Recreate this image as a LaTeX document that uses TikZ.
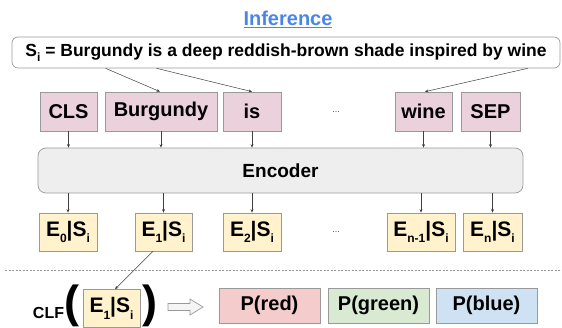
\documentclass[tikz,border=0pt]{standalone}
\usepackage{fontspec}
\setmainfont{Liberation Sans}
\usetikzlibrary{arrows.meta,calc}
\definecolor{tokfill}{HTML}{EAD1DC}
\definecolor{efill}{HTML}{FFF2CC}
\definecolor{encfill}{HTML}{EEEEEE}
\definecolor{redfill}{HTML}{F4CCCC}
\definecolor{greenfill}{HTML}{D9EAD3}
\definecolor{bluefill}{HTML}{CFE2F3}
\definecolor{bordergray}{HTML}{999999}
\definecolor{titleblue}{HTML}{4A86E8}
\newcommand{\lowsub}[1]{\raisebox{-0.3em}{\fontsize{12}{12}\selectfont #1}}
\begin{document}
\begin{tikzpicture}[x=1pt,y=-1pt,
  box/.style={draw=bordergray, line width=0.7pt, inner sep=0pt, font=\fontsize{20}{20}\selectfont\bfseries},
  tok/.style={box, fill=tokfill, minimum height=39pt},
  emb/.style={box, fill=efill, minimum height=38pt, font=\fontsize{21}{21}\selectfont\bfseries},
  prob/.style={box, minimum width=101pt, minimum height=35pt, font=\fontsize{20}{20}\selectfont\bfseries},
  conn/.style={draw=black!75, line width=0.5pt, -{Stealth[length=3.5pt,width=3pt]}},
  dotsn/.style={font=\fontsize{9}{9}\selectfont, text=black!70},
  paren/.style={font=\fontsize{45}{45}\selectfont\bfseries, inner sep=0pt, anchor=north}
]
\useasboundingbox (0,0) rectangle (562,328);

% title
\node[font=\fontsize{20}{20}\selectfont\bfseries, text=titleblue] (title) at (288,19) {\underline{Inference}};

% sentence
\node[draw=bordergray, line width=0.7pt, rounded corners=6pt, minimum width=548pt, minimum height=31pt,
      font=\fontsize{17.5}{17.5}\selectfont\bfseries] (sent) at (286,52.5)
      {S\lowsub{i} = Burgundy is a deep reddish-brown shade inspired by wine};

% tokens
\node[tok, minimum width=57pt] (cls) at (68.5,111.5) {CLS};
\node[tok, minimum width=112pt] (burg) at (161,111.5) {Burgundy};
\node[tok, minimum width=58pt] (is) at (252,111.5) {is};
\node[dotsn] (tdots) at (336,112) {...};
\node[tok, minimum width=57pt] (wine) at (423.5,111.5) {wine};
\node[tok, minimum width=59pt] (sep) at (490.5,111.5) {SEP};

% encoder
\node[box, fill=encfill, rounded corners=8pt, minimum width=485pt, minimum height=45pt,
      font=\fontsize{19}{19}\selectfont\bfseries] (enc) at (280.5,170.5) {Encoder};

% embeddings
\node[emb, minimum width=58pt] (e0) at (68,232) {E\lowsub{0}|S\lowsub{i}};
\node[emb, minimum width=57pt] (e1) at (163.5,232) {E\lowsub{1}|S\lowsub{i}};
\node[emb, minimum width=58pt] (e2) at (252,232) {E\lowsub{2}|S\lowsub{i}};
\node[dotsn] (edots) at (336,232) {...};
\node[emb, minimum width=68pt] (en1) at (421,232) {E\lowsub{n-1}|S\lowsub{i}};
\node[emb, minimum width=59pt] (en) at (492.5,232) {E\lowsub{n}|S\lowsub{i}};

% sentence -> tokens
\draw[conn] ($(sent.south west)+(94,0)$) -- ($(burg.north)+(-1,0)$);
\draw[conn] ($(sent.south west)+(145,0)$) -- (is.north);
\draw[conn] ($(sent.south west)+(516,0)$) -- ($(wine.north)+(1.5,0)$);

% tokens -> encoder
\foreach \t in {cls,burg,is,wine,sep}
  \draw[conn] (\t.south) -- (\t.south |- enc.north);
% encoder -> embeddings
\foreach \t in {e0,e1,e2,en1,en}
  \draw[conn] (\t.north |- enc.south) -- (\t.north);

% separator
\coordinate (sepL) at (5,270);
\coordinate (sepR) at (562,270);
\draw[bordergray, line width=0.6pt, dash pattern=on 2pt off 1.5pt] (sepL) -- (sepR);

% classifier
\node[font=\fontsize{16}{16}\selectfont\bfseries] (clf) at (48.5,313) {CLF};
\node[paren] (lp) at (71.5,285) {(};
\node[emb, minimum width=57pt] (clfe) at (111.5,308.5) {E\lowsub{1}|S\lowsub{i}};
\node[paren] (rp) at (150,285) {)};
\draw[conn] ($(e1.south)+(-10.5,0)$) -- ($(clfe.north)+(3.5,0)$);

% hollow arrow
\coordinate (ha) at (168,307);
\draw[bordergray, fill=gray!8, line width=0.7pt]
  (ha) ++(0,-3.5) -- ++(22,0) -- ++(0,-4.5) -- ++(13,8) -- ++(-13,8) -- ++(0,-4.5) -- ++(-22,0) -- cycle;

% probabilities
\node[prob, fill=redfill] (pred) at (269.5,305.5) {P(red)};
\node[prob, fill=greenfill] (pgreen) at (378.5,305.5) {P(green)};
\node[prob, fill=bluefill] (pblue) at (486.5,305.5) {P(blue)};
\end{tikzpicture}
\end{document}
